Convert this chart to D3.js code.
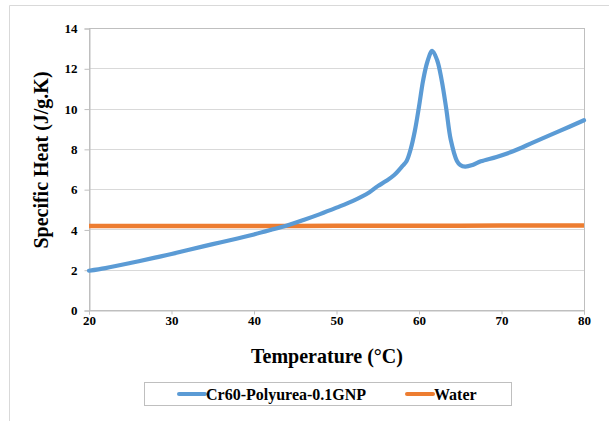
<!DOCTYPE html>
<html lang="en">
<head>
<meta charset="UTF-8">
<title>Specific Heat</title>
<script src="https://d3js.org/d3.v7.min.js"></script>
<style>
  body { margin: 0; background: #fff; }
  text { font-family: "Liberation Serif", "Times New Roman", serif; font-weight: bold; fill: #000; }
</style>
</head>
<body>
<svg id="chart" width="609" height="421"></svg>
<script>
// data
var temps = [20, 22, 25, 28, 30, 32, 35, 38, 40, 42, 44, 46, 48, 50, 52, 54, 55, 56, 57, 58, 58.5, 59, 59.5, 60, 60.5, 61, 61.6, 62.2, 62.75, 63.3, 63.85, 64.6, 65, 65.6, 66.5, 67.5, 69.4, 71.4, 74, 77, 80];
var polyurea = [1.95, 2.08, 2.33, 2.6, 2.78, 2.98, 3.27, 3.55, 3.75, 3.97, 4.2, 4.47, 4.76, 5.08, 5.42, 5.85, 6.15, 6.4, 6.7, 7.15, 7.4, 8.0, 8.9, 10.1, 11.4, 12.3, 12.87, 12.4, 11.4, 10.0, 8.45, 7.4, 7.2, 7.12, 7.2, 7.38, 7.6, 7.88, 8.35, 8.88, 9.42];
var waterTemps = [20, 30, 40, 50, 60, 70, 80];
var water = [4.17, 4.17, 4.17, 4.18, 4.18, 4.19, 4.19];
var xTicks = [20, 30, 40, 50, 60, 70, 80];
var yTicks = [0, 2, 4, 6, 8, 10, 12, 14];
var seriesNames = ["Cr60-Polyurea-0.1GNP", "Water"];
var colors = ["#5B9BD5", "#ED7D31"];

var svg = d3.select("#chart");

// outer chart border (cropped)
svg.append("path")
  .attr("d", "M9.5,421 V5.5 H609")
  .attr("fill", "none")
  .attr("stroke", "#d9d9d9");

var plotLeft = 89, plotRight = 584, plotTop = 28, plotBottom = 310;
var x = d3.scaleLinear().domain([20, 80]).range([plotLeft, plotRight]);
var y = d3.scaleLinear().domain([0, 14]).range([plotBottom, plotTop]);

// gridlines
svg.append("g")
  .selectAll("line")
  .data(yTicks.slice(1))
  .enter().append("line")
  .attr("x1", plotLeft).attr("x2", plotRight)
  .attr("y1", d => Math.round(y(d)) + 0.5)
  .attr("y2", d => Math.round(y(d)) + 0.5)
  .attr("stroke", "#d9d9d9");

// plot border
svg.append("rect")
  .attr("x", plotLeft + 0.5).attr("y", plotTop + 0.5)
  .attr("width", plotRight - plotLeft).attr("height", plotBottom - plotTop)
  .attr("fill", "none")
  .attr("stroke", "#bfbfbf");

// axes
var yAxis = svg.append("g")
  .attr("transform", "translate(" + (plotLeft + 0.5) + ",0.5)")
  .call(d3.axisLeft(y).tickValues(yTicks).tickSize(5).tickPadding(7));
var xAxis = svg.append("g")
  .attr("transform", "translate(0," + (plotBottom + 0.5) + ")")
  .call(d3.axisBottom(x).tickValues(xTicks).tickSize(4).tickPadding(1));
[yAxis, xAxis].forEach(function (a) {
  a.select(".domain").attr("stroke", "#bfbfbf");
  a.selectAll(".tick line").attr("stroke", "#bfbfbf");
  a.selectAll(".tick text")
    .attr("font-family", "Liberation Serif")
    .attr("font-weight", "bold")
    .attr("font-size", "13px")
    .attr("fill", "#000");
});

// lines
var line = d3.line()
  .x(d => x(d[0]))
  .y(d => y(d[1]))
  .curve(d3.curveCatmullRom.alpha(0.5));

svg.append("path")
  .datum(waterTemps.map((t, i) => [t, water[i]]))
  .attr("d", line)
  .attr("fill", "none")
  .attr("stroke", colors[1])
  .attr("stroke-width", 4.5);

svg.append("path")
  .datum(temps.map((t, i) => [t, polyurea[i]]))
  .attr("d", line)
  .attr("fill", "none")
  .attr("stroke", colors[0])
  .attr("stroke-width", 4.2)
  .attr("stroke-linejoin", "round")
  .attr("stroke-linecap", "round");

// axis titles
svg.append("text")
  .attr("x", 327)
  .attr("y", 363)
  .attr("text-anchor", "middle")
  .attr("font-size", "20px")
  .text("Temperature (\u00B0C)");

svg.append("text")
  .attr("transform", "translate(48,160) rotate(-90)")
  .attr("text-anchor", "middle")
  .attr("font-size", "20px")
  .text("Specific Heat (J/g.K)");

// legend
svg.append("rect")
  .attr("x", 144.5).attr("y", 382.5)
  .attr("width", 367).attr("height", 23)
  .attr("fill", "none")
  .attr("stroke", "#bfbfbf");

var legendX = [179, 407];
seriesNames.forEach(function (name, i) {
  svg.append("line")
    .attr("x1", legendX[i]).attr("x2", legendX[i] + 26)
    .attr("y1", 394).attr("y2", 394)
    .attr("stroke", colors[i])
    .attr("stroke-width", 4)
    .attr("stroke-linecap", "round");
  svg.append("text")
    .attr("x", legendX[i] + 27)
    .attr("y", 399.5)
    .attr("font-size", "16px")
    .text(name);
});
</script>
</body>
</html>
